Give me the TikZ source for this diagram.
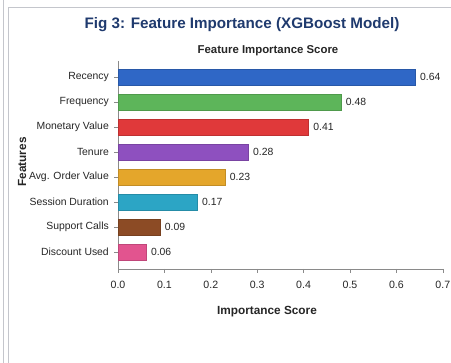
\documentclass[tikz,border=0pt]{standalone}
\usepackage{fontspec}
\setmainfont{Liberation Sans}
\definecolor{titleblue}{HTML}{1F3A6E}
\definecolor{frameg}{HTML}{C4C6CC}
\definecolor{axisg}{HTML}{8A8A8A}
\definecolor{cRec}{HTML}{2F67C6}
\definecolor{cFreq}{HTML}{5DB55A}
\definecolor{cMon}{HTML}{E0393A}
\definecolor{cTen}{HTML}{8E50BF}
\definecolor{cAov}{HTML}{E4A62B}
\definecolor{cSes}{HTML}{2CA5C5}
\definecolor{cSup}{HTML}{8C4B25}
\definecolor{cDis}{HTML}{E2548F}
\tikzset{
  catlabel/.style={anchor=east, font=\fontsize{10.4}{12}\selectfont, text=black!85, inner sep=0pt},
  vallabel/.style={anchor=west, font=\fontsize{10.4}{12}\selectfont, text=black!85, inner sep=0pt},
  ticklabel/.style={anchor=center, font=\fontsize{10.6}{12}\selectfont, text=black!85, inner sep=0pt},
  axistitle/.style={font=\bfseries\fontsize{11.8}{14}\selectfont, text=black!85, inner sep=0pt},
  bar/.style={fill=#1, draw=#1!85!black, line width=0.3pt},
}
\begin{document}
\begin{tikzpicture}[x=1pt,y=-1pt]
\useasboundingbox (0,0) rectangle (451,363);
\fill[white] (0,0) rectangle (451,363);
% window frame lines
\draw[frameg, line width=0.8pt] (3,0) -- (3,363);
\draw[frameg, line width=0.8pt] (8.5,363) -- (8.5,7) -- (451,7);
% titles
\node[font=\bfseries\fontsize{15.2}{18}\selectfont, text=titleblue, inner sep=0pt] (title) at (242,25) {Fig 3: Feature Importance (XGBoost Model)};
\node[axistitle, font=\bfseries\fontsize{11.4}{13}\selectfont] (sub) at (268,51) {Feature Importance Score};
% axes
\coordinate (org) at (118,269);
\coordinate (ytop) at (118,61);
\coordinate (xend) at (443,269);
\draw[axisg, line width=0.6pt] (ytop) -- (org) -- (xend);
% x ticks (464 px per unit)
\foreach \v/\t in {0/0.0,1/0.1,2/0.2,3/0.3,4/0.4,5/0.5,6/0.6,7/0.7}{
  \draw[axisg, line width=0.5pt] (118+46.4*\v,269) -- (118+46.4*\v,273);
  \node[ticklabel] (xt\v) at (118+46.4*\v,285) {\t};
}
\node[axistitle] (xtitle) at (267,312) {Importance Score};
\node[axistitle] at (22,162) [rotate=90] (ytitle) {Features};
% bars
\foreach \i/\name/\val/\col in {
  0/Recency/0.64/cRec,
  1/Frequency/0.48/cFreq,
  2/Monetary Value/0.41/cMon,
  3/Tenure/0.28/cTen,
  4/Avg. Order Value/0.23/cAov,
  5/Session Duration/0.17/cSes,
  6/Support Calls/0.09/cSup,
  7/Discount Used/0.06/cDis}{
  \pgfmathsetmacro{\yc}{77+25*\i}
  \pgfmathsetmacro{\xe}{118+464*\val}
  \fill[bar=\col] (118.5,\yc-8) rectangle (\xe,\yc+8);
  \draw[axisg, line width=0.5pt] (114,\yc) -- (118,\yc);
  \node[catlabel] (cat\i) at (109,\yc) {\name};
  \node[vallabel] (val\i) at (\xe+5,\yc) {\val};
}
\end{tikzpicture}
\end{document}
